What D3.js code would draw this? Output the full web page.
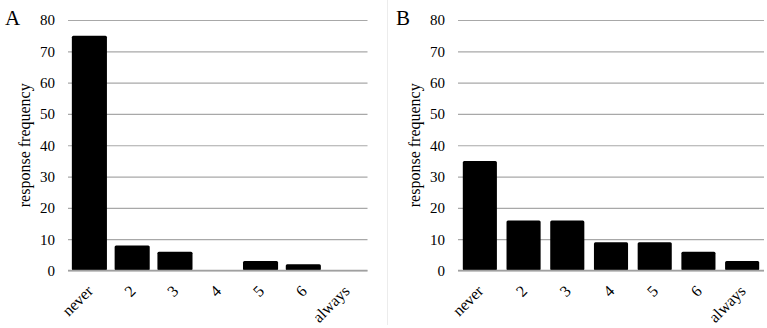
<!DOCTYPE html>
<meta charset="utf-8">
<head>
<style>
  body { margin: 0; background: #fff; }
  svg { display: block; }
  text { font-family: "Liberation Serif", "Times New Roman", serif; }
  .grid line { stroke: #a8a8a8; stroke-width: 1.2; }
  .grid path { display: none; }
  .ytick text { font-size: 15px; fill: #000; }
  .xtick text { font-size: 16px; fill: #000; }
  .xtick path, .xtick line { display: none; }
</style>
</head>
<body>
<script src="https://cdnjs.cloudflare.com/ajax/libs/d3/7.8.5/d3.min.js"></script>
<script>
const categories = ["never", "2", "3", "4", "5", "6", "always"];
const valuesA = [75, 8, 6, 0, 3, 2, 0];
const valuesB = [35, 16, 16, 9, 9, 6, 3];
const yTicks = [0, 10, 20, 30, 40, 50, 60, 70, 80];
const panelLabels = ["A", "B"];

const W = 767, H = 328;
const svg = d3.select("body").append("svg")
  .attr("width", W)
  .attr("height", H);

// divider between the panels
svg.append("line")
  .attr("x1", 387.5).attr("x2", 387.5)
  .attr("y1", 0).attr("y2", 325)
  .style("stroke", "#ececec")
  .style("stroke-width", 1);

const panels = [
  {label: panelLabels[0], values: valuesA, left: 68, right: 367.5, inner: 0.18, outer: 0.09, letterX: 5, titleX: 30},
  {label: panelLabels[1], values: valuesB, left: 458, right: 764, inner: 0.22, outer: 0.11, letterX: 396, titleX: 420}
];

const y = d3.scaleLinear().domain([0, 80]).range([270.5, 20]);

panels.forEach(p => {
  const g = svg.append("g");

  const x = d3.scaleBand()
    .domain(categories)
    .range([p.left, p.right])
    .paddingInner(p.inner)
    .paddingOuter(p.outer);

  // gridlines + y tick labels
  g.append("g")
    .attr("class", "grid ytick")
    .attr("transform", "translate(" + p.left + ",0)")
    .call(d3.axisLeft(y)
      .tickValues(yTicks)
      .tickSize(-(p.right - p.left))
      .tickPadding(13)
      .tickFormat(d3.format("d")))
    .attr("font-family", null);

  // bars
  g.selectAll("rect.bar")
    .data(categories.map((c, i) => ({c, v: p.values[i]})).filter(d => d.v > 0))
    .join("rect")
      .attr("class", "bar")
      .attr("x", d => x(d.c))
      .attr("width", x.bandwidth())
      .attr("y", d => y(d.v))
      .attr("height", d => y(0) - y(d.v))
      .attr("rx", 1.5)
      .style("fill", "#000");

  // zero line on top of the bars
  g.append("line")
    .attr("x1", p.left).attr("x2", p.right)
    .attr("y1", y(0)).attr("y2", y(0))
    .style("stroke", "#a0a0a0")
    .style("stroke-width", 1.6);

  // category labels
  const xa = g.append("g")
    .attr("class", "xtick")
    .attr("transform", "translate(0," + y(0) + ")")
    .call(d3.axisBottom(x).tickSize(0))
    .attr("font-family", null);
  xa.selectAll("text")
    .style("text-anchor", "end")
    .attr("dy", 0)
    .attr("y", 0)
    .attr("transform", "translate(4.5,21.5) rotate(-45)");

  // axis title
  g.append("text")
    .attr("transform", "translate(" + p.titleX + "," + y(40) + ") rotate(-90)")
    .style("text-anchor", "middle")
    .style("font-size", "16px")
    .text("response frequency");

  // panel letter
  g.append("text")
    .attr("x", p.letterX)
    .attr("y", 25)
    .style("font-size", "21px")
    .text(p.label);
});
</script>
</body>
